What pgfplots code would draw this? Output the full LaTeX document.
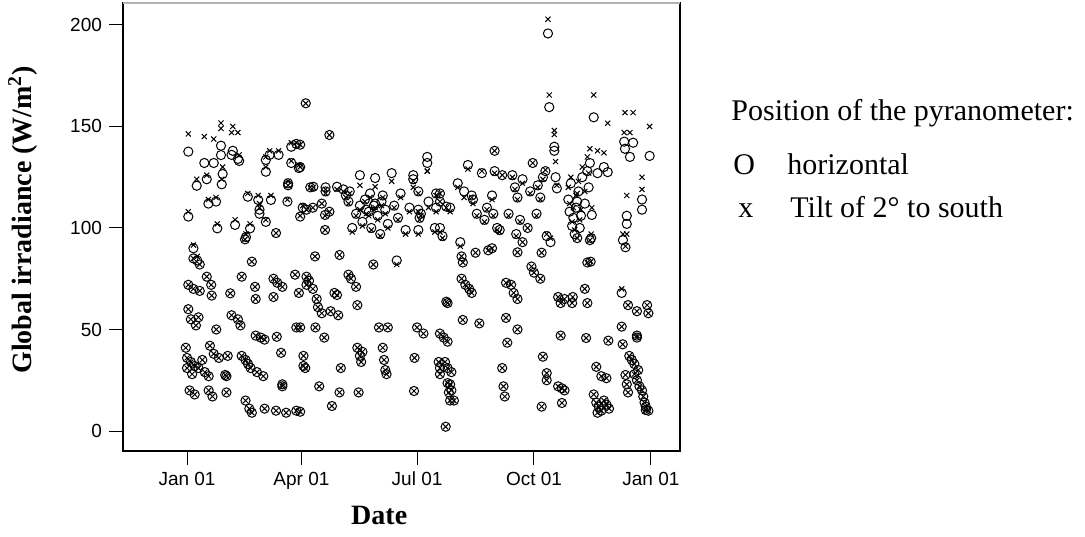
\documentclass[border=0pt]{standalone}
\usepackage{pgfplots}
\pgfplotsset{compat=1.18}
\usepackage{pgfplotstable}
\usepackage{fontspec}
\setmainfont{Liberation Serif}
\newfontfamily\arial{Liberation Sans}

% d = days after Jan 01, h = horizontal, t = tilt of 2 deg to south
\pgfplotstableread{
d h t
1 137.6 146.3
1 105.6 108
5 90 91.6
8 84 86
13.6 132 145
15.5 124 126
16.8 112 114
21 132 143.8
22.8 113 115
23.8 99.8 102
26.7 140.5 151.7
26.7 135.9 149
27.3 121.5 124
28 126.6 130
7.6 120.8 124
35 136 147
36 138 150
37.8 101.5 104
40 134 147
41 133 136
46.4 95.5 97
47.8 115.4 117
49.6 99.8 102
56 113.8 116
57 109 112
57 107 110
62 133.5 135
62 127.7 130
62 103 104
65 136 138
66 113.8 116
70 97.5 97.5
72 136 138
79 113 114
79.5 122 123
79.5 121 121
82 140 142
82 132 133
86 141.4 142
88 129.5 131
89 141 141
89 130 130
89 105.6 106
91 110 111
93.4 161.4 161.4
97 120 120
94 109 109
99 110 110
99.4 120.3 120
106 112 112
108.6 106.4 106
108.6 99 99
109 120 119
109 118 117
112 145.8 145.8
112 108 108
118 120.3 119
123 119 118
125 116 115
127 113 112
128 118 117
130 100 98
133 107 106
136 126 121
136 111 109
138 103 101
140 114 113
141 109 107
143 108 106
144 117 115
145 100 99
147 111 109
148 124.6 120.3
148 112 110
150 106 104
152 97 96
153 113 111
154 116 115
156 109 107
158 102 100
161 127 123
163 111 110
166 105 104
168 117 115
172 99 97
175 110 108
178 126 120
178 124 123
182 118 117
182 109 108
183 105 104
182 99 97
184 107 106
189 135 128
189 132 128
190 113 110
195 100 98
196 117 116
196 110 108
199 117 117
199 113 113
199 100 98
204 110.5 110
201 96 95
207 110 108
213 122 120
215 93 91
218 118 115
221 131 129
224 116 115
225 114 112
228 107 106
232 127 128
234 104 103
236 110 109
240 116 114
241 107 106
242 138 138
242 128 127
244 100 99
246 99 98
248 126 126
253 107 106
256 126 125
258 120 119
260 115 114
262 104 103
264 124 122
268 100 100
270 118 117
272 132 132
275 107 106
276 121 120
278 115 114
280 125 124
282 128 128.6
284 195.8 202.8
285 159.5 165.5
289 140 148
289 138 146
290 125 132.7
291 119.5 121
283 96 97
259 97 96
300 114 120
301 108 112
302 122 125
303 101 103
304 105 110
305 97 99
306 110 116
307 113 117
308 118 123
309 100 104
310 106 109
311 125 130
313 112 118
315 128 135
316 120 127
317 132 139
318.5 106.4 110
318 95 97
320 154.5 165.5
323 127 138
328 130 137
331 127.5 151.6
344 142.5 147
346 106 116
346 102 97
348.5 135 147
351 142 156.8
344.6 139 156.8
358 114 125
358 109 119
364 135.5 150
307 95 95
317 94 94
343 94 97
345 90.5 91
5 85 85
10 82 82
15.5 76 76
19 72 72
1 72 72
5 70 70
10 69 69
19.4 66.7 66.7
34 67.8 67.8
43 76 76
45.6 94.4 94.4
51 83.4 83.4
53.5 71 71
54 65 65
68 75 75
71 73 73
75 71 71
68 66 66
85 77 77
88 68 68
94 72 72
1 60 60
3 55 55
7 52 52
9 56 56
35 57 57
40 55 55
42 52 52
23 50 50
54 47 47
58 46 46
61 45 45
70.6 46.4 46.4
86 51 51
89 51 51
94 76 76
96 74 74
99 70 70
102 65 65
100.7 86 86
101 51 51
103 61 61
106 58 58
108 46 46
113 59 59
116 68 68
118 67 67
119 57 57
120 86.7 86.7
127 77 77
129 75 75
133 71 71
134 62 62
146.6 82 82
151 51 51
158 51 51
165 84 82
181 51 51
186 48 48
199 48 48
202 46 46
205 44 44
204 63.7 63.7
205 63 63
216 86 86
217 83 83
216 75 75
219 72 72
222 70 70
224 68 68
217 54.7 54.7
227 87.8 87.8
230 53 53
237 89 89
240 90 90
251 73 73
255 72 72
257 68 68
260 65 65
251 55.7 55.7
252 43.5 43.5
260 50 50
260 88 88
264 93 93
271 81 81
273 78 78
278 75 75
279 87.8 87.8
286 93 95
292 66 66
294 63 63
297 65 65
303 63 63
294 47 47
303.5 66 66
313 70 70
315 63 63
315 83 83
314 45.8 45.8
317.6 83.4 83.4
331.5 44.5 44.5
342.8 42.7 42.7
342 51.4 51.4
342 68 70
347 62 62
354 59 59
362 62 62
363 58 58
354 47 47
354 46 46
-1 41 41
0 36 36
3 34 34
6 32 32
12 35 35
18 42 42
21 38 38
25 36 36
32 37 37
43 37 37
46 35 35
48 33 33
50 31 31
55 29 29
60 27 27
74 38.5 38.5
91.6 37 37
91.6 32 32
0 31 31
4 28 28
9 31 31
14 29 29
17 27 27
30 27.6 27.6
31 27 27
2 20 20
6 18 18
17 20 20
20 17 17
31 19 19
75 23 23
75 22 22
46 15 15
49 11 11
51 9 9
61 11 11
70 10 10
78 9 9
86 10 10
93 31 31
104 22 22
114 12.3 12.3
89 9.5 9.5
120 19 19
121 31 31
134 41 41
136 37 37
137 34 34
138 39 39
135 19 19
154 41 41
155 35 35
156 30 30
157 28 28
178.6 19.7 19.7
179 36 36
198 34 34
199 31 31
199 28 28
203.5 2.1 2.1
205 23.6 23.6
206 19 19
207 15 15
203 34 34
205 31 31
208 29 29
207 23 23
208 20 20
210 15 15
248 31 31
249 22 22
250 17 17
280 36.6 36.6
283 28.5 28.5
283 25 25
292 22 22
295 21 21
297 20 20
295 13.8 13.8
279 12 12
322 31.6 31.6
326 27 27
330 26 26
345 27.6 27.6
346 23 23
347 19 19
348 37 37
350 35 35
352 33 33
355 30 30
352 28 28
354 25 25
356 22 22
358 20 20
359 17 17
360 14 14
361 12 12
363 10 10
361 10.3 10.3
320 18 18
322 14 14
324 12 12
326 10 10
328 15 15
330 13 13
332 11 11
323 9 9
}\data

\begin{document}
\begin{tikzpicture}[x=1pt,y=1pt]
\useasboundingbox (0,0) rectangle (542.5,268);
\begin{axis}[
  at={(61.5pt,42.5pt)}, anchor=south west,
  scale only axis, width=278.5pt, height=224pt,
  xmin=-50.4, xmax=387.9, ymin=-9.85, ymax=210.8,
  xtick={0,90,181,273,365},
  xticklabels={Jan 01,Apr 01,Jul 01,Oct 01,Jan 01},
  ytick={0,50,100,150,200},
  tick pos=left, tick align=outside, major tick length=7pt,
  tick style={black, line width=0.5pt},
  axis line style={line width=0.6pt},
  ticklabel style={font=\arial\fontsize{9.5}{11}\selectfont},
  /pgf/number format/assume math mode=true,
  xlabel={Date},
  ylabel={Global irradiance (W/m\textsuperscript{2})},
  xlabel style={at={(axis description cs:0.46,-0.143)}, anchor=center,
    font=\bfseries\fontsize{14}{16}\selectfont},
  ylabel style={at={(axis description cs:-0.18,0.516)}, anchor=center,
    font=\bfseries\fontsize{14}{16}\selectfont},
  after end axis/.code={
    \draw[gray!60, line width=0.9pt] (rel axis cs:0,1) -- (rel axis cs:1,1);
  },
]
\addplot[only marks, mark=o, mark size=2.3pt, mark options={line width=0.5pt, black}]
  table[x=d, y=h] {\data};
\addplot[only marks, mark=x, mark size=1.8pt, mark options={line width=0.5pt, black}]
  table[x=d, y=t] {\data};
\end{axis}
\begin{scope}[every node/.style={anchor=base west, inner sep=0pt, font=\fontsize{15}{18}\selectfont}]
\node at (365.5,207.5) {Position of the pyranometer:};
\node at (366.5,180.5) {O};
\node at (393.5,180.5) {horizontal};
\node at (369,159) {x};
\node at (395,159) {Tilt of 2° to south};
\end{scope}
\end{tikzpicture}
\end{document}
